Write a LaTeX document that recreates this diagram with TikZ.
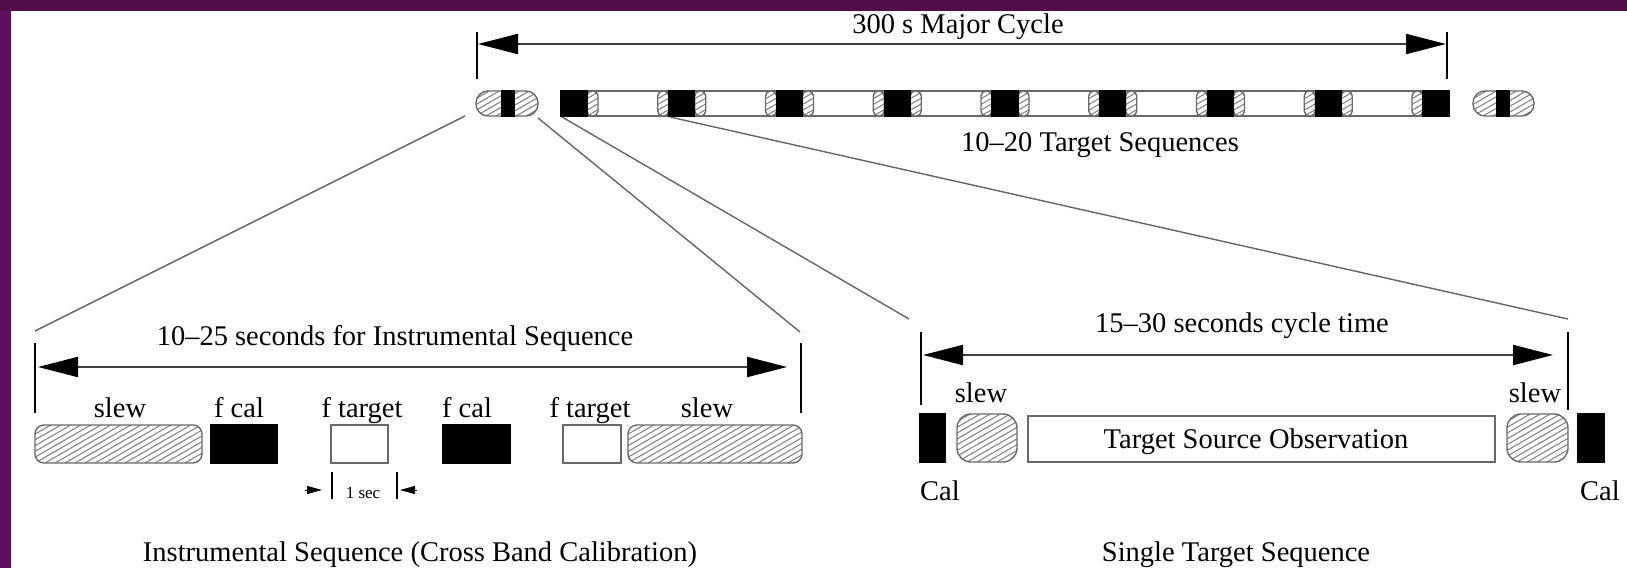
\documentclass[tikz,border=0pt]{standalone}
\usepackage{fontspec}
\setmainfont{Liberation Serif}
\usetikzlibrary{arrows.meta}
\definecolor{purpT}{RGB}{80,12,75}
\definecolor{purpL}{RGB}{94,16,94}
\definecolor{edgegray}{RGB}{105,105,105}
\begin{document}
\begin{tikzpicture}[x=1pt,y=-1pt,
  lbl/.style={font=\fontsize{28.5}{30}\selectfont, inner sep=0pt, anchor=base},
  smalllbl/.style={font=\fontsize{17}{19}\selectfont, inner sep=0pt, anchor=base},
  box/.style={draw=edgegray, line width=1.4pt, inner sep=0pt, outer sep=0pt, anchor=north west},
  calbox/.style={box, fill=black, draw=black},
  tgtbox/.style={box, fill=white},
  slewbox/.style={box, fill=white, path picture={
      \foreach \d in {-100,-90,...,180}{
        \draw[black!50, line width=1pt] ([xshift=\d pt]path picture bounding box.south west) -- ++(30:320pt);
      }}},
  dimarrow/.style={line width=2pt, draw=black!75, {Triangle[length=40pt,width=20pt,fill=black,color=black]}-{Triangle[length=40pt,width=20pt,fill=black,color=black]}},
  tickline/.style={line width=1.8pt, draw=black},
  zoomline/.style={line width=1.4pt, draw=black!60},
  secarrow/.style={-{Triangle[length=15pt,width=8pt]}, line width=1pt, draw=black},
]
% background and frame
\fill[white] (0,0) rectangle (1627,568);
\fill[purpT] (0,0) rectangle (1627,11);
\fill[purpL] (0,11) rectangle (11,568);
\useasboundingbox (0,0) rectangle (1627,568);

% ---------- top: major cycle ----------
\node[lbl] (tmajor) at (958,33) {300 s Major Cycle};
\coordinate (mt1a) at (477,32); \coordinate (mt1b) at (477,79);
\coordinate (mt2a) at (1447,32); \coordinate (mt2b) at (1447,79);
\draw[tickline] (mt1a) -- (mt1b);
\draw[tickline] (mt2a) -- (mt2b);
\coordinate (ma) at (478,44); \coordinate (mb) at (1446,44);
\draw[dimarrow] (ma) -- (mb);

% instrumental pills
\node[slewbox, rounded corners=12pt, minimum width=62pt, minimum height=25pt] (pillL) at (476,91) {};
\node[calbox, minimum width=12pt, minimum height=25pt] (pillLc) at (502,91) {};
\node[slewbox, rounded corners=12pt, minimum width=61pt, minimum height=25pt] (pillR) at (1473,91) {};
\node[calbox, minimum width=12pt, minimum height=25pt] (pillRc) at (1497,91) {};

% long bar of target sequences
\node[tgtbox, minimum width=888pt, minimum height=25pt] (bar) at (561,91) {};
\foreach \k in {0,...,8}{
  \pgfmathsetmacro{\s}{561+\k*107.75}
  \ifnum\k>0
    \node[slewbox, rounded corners=5pt, minimum width=11pt, minimum height=25pt] (sl\k) at (\s-11,91) {};
  \fi
  \ifnum\k<8
    \node[slewbox, rounded corners=5pt, minimum width=11pt, minimum height=25pt] (sr\k) at (\s+26,91) {};
  \fi
  \node[calbox, minimum width=26pt, minimum height=25pt] (cal\k) at (\s,91) {};
}
\node[lbl] (tseq) at (1100,151) {10–20 Target Sequences};

% zoom connectors
\coordinate (z1a) at (465,116); \coordinate (z1b) at (35,331);
\coordinate (z2a) at (538,118); \coordinate (z2b) at (800,332);
\coordinate (z3a) at (562,117); \coordinate (z3b) at (909,319);
\coordinate (z4a) at (670,117); \coordinate (z4b) at (1568,319);
\draw[zoomline] (z1a) -- (z1b);
\draw[zoomline] (z2a) -- (z2b);
\draw[zoomline] (z3a) -- (z3b);
\draw[zoomline] (z4a) -- (z4b);

% ---------- instrumental sequence ----------
\node[lbl] (tinst) at (395,345) {10–25 seconds for Instrumental Sequence};
\coordinate (it1a) at (35,343); \coordinate (it1b) at (35,413);
\coordinate (it2a) at (801,343); \coordinate (it2b) at (801,413);
\draw[tickline] (it1a) -- (it1b);
\draw[tickline] (it2a) -- (it2b);
\coordinate (ia) at (38,367); \coordinate (ib) at (787,367);
\draw[dimarrow] (ia) -- (ib);

\node[slewbox, rounded corners=9pt, minimum width=167pt, minimum height=38pt] (islew1) at (35,425) {};
\node[calbox, minimum width=66pt, minimum height=38pt] (ical1) at (211,425) {};
\node[tgtbox, minimum width=57pt, minimum height=38pt] (itgt1) at (331,425) {};
\node[calbox, minimum width=67pt, minimum height=38pt] (ical2) at (443,425) {};
\node[tgtbox, minimum width=58pt, minimum height=38pt] (itgt2) at (563,425) {};
\node[slewbox, rounded corners=9pt, minimum width=174pt, minimum height=38pt] (islew2) at (628,425) {};

\node[lbl] (lslew1) at (120,417) {slew};
\node[lbl] (lcal1) at (239,417) {f cal};
\node[lbl] (ltgt1) at (362,417) {f target};
\node[lbl] (lcal2) at (467,417) {f cal};
\node[lbl] (ltgt2) at (590,417) {f target};
\node[lbl] (lslew2) at (707,417) {slew};

% 1 sec marker
\coordinate (sa1) at (332,472); \coordinate (sa2) at (332,499);
\coordinate (sb1) at (397,472); \coordinate (sb2) at (397,499);
\draw[line width=1.5pt] (sa1) -- (sa2);
\draw[line width=1.5pt] (sb1) -- (sb2);
\coordinate (sl0) at (305,490); \coordinate (sl1) at (322,490);
\coordinate (sr0) at (417,490); \coordinate (sr1) at (400,490);
\draw[secarrow] (sl0) -- (sl1);
\draw[secarrow] (sr0) -- (sr1);
\node[smalllbl] (lsec) at (363,498) {1 sec};

\node[lbl] (tinstcap) at (420,561) {Instrumental Sequence (Cross Band Calibration)};

% ---------- single target sequence ----------
\node[lbl] (tcyc) at (1242,332) {15–30 seconds cycle time};
\coordinate (st1a) at (921,332); \coordinate (st1b) at (921,405);
\coordinate (st2a) at (1568,332); \coordinate (st2b) at (1568,410);
\draw[tickline] (st1a) -- (st1b);
\draw[tickline] (st2a) -- (st2b);
\coordinate (sa) at (923,355); \coordinate (sb) at (1553,355);
\draw[dimarrow] (sa) -- (sb);

\node[calbox, minimum width=25pt, minimum height=48pt] (scal1) at (920,414) {};
\node[slewbox, rounded corners=14pt, minimum width=60pt, minimum height=48pt] (sslew1) at (957,414) {};
\node[tgtbox, minimum width=467pt, minimum height=46pt] (sobs) at (1028,416) {};
\node[slewbox, rounded corners=14pt, minimum width=61pt, minimum height=48pt] (sslew2) at (1507,414) {};
\node[calbox, minimum width=26pt, minimum height=48pt] (scal2) at (1578,414) {};
\node[lbl] (lobs) at (1256,448) {Target Source Observation};

\node[lbl] (lsslew1) at (981,402) {slew};
\node[lbl] (lsslew2) at (1535,402) {slew};
\node[lbl] (lscal1) at (940,500) {Cal};
\node[lbl] (lscal2) at (1600,500) {Cal};

\node[lbl] (tsingle) at (1236,561) {Single Target Sequence};
\end{tikzpicture}
\end{document}
